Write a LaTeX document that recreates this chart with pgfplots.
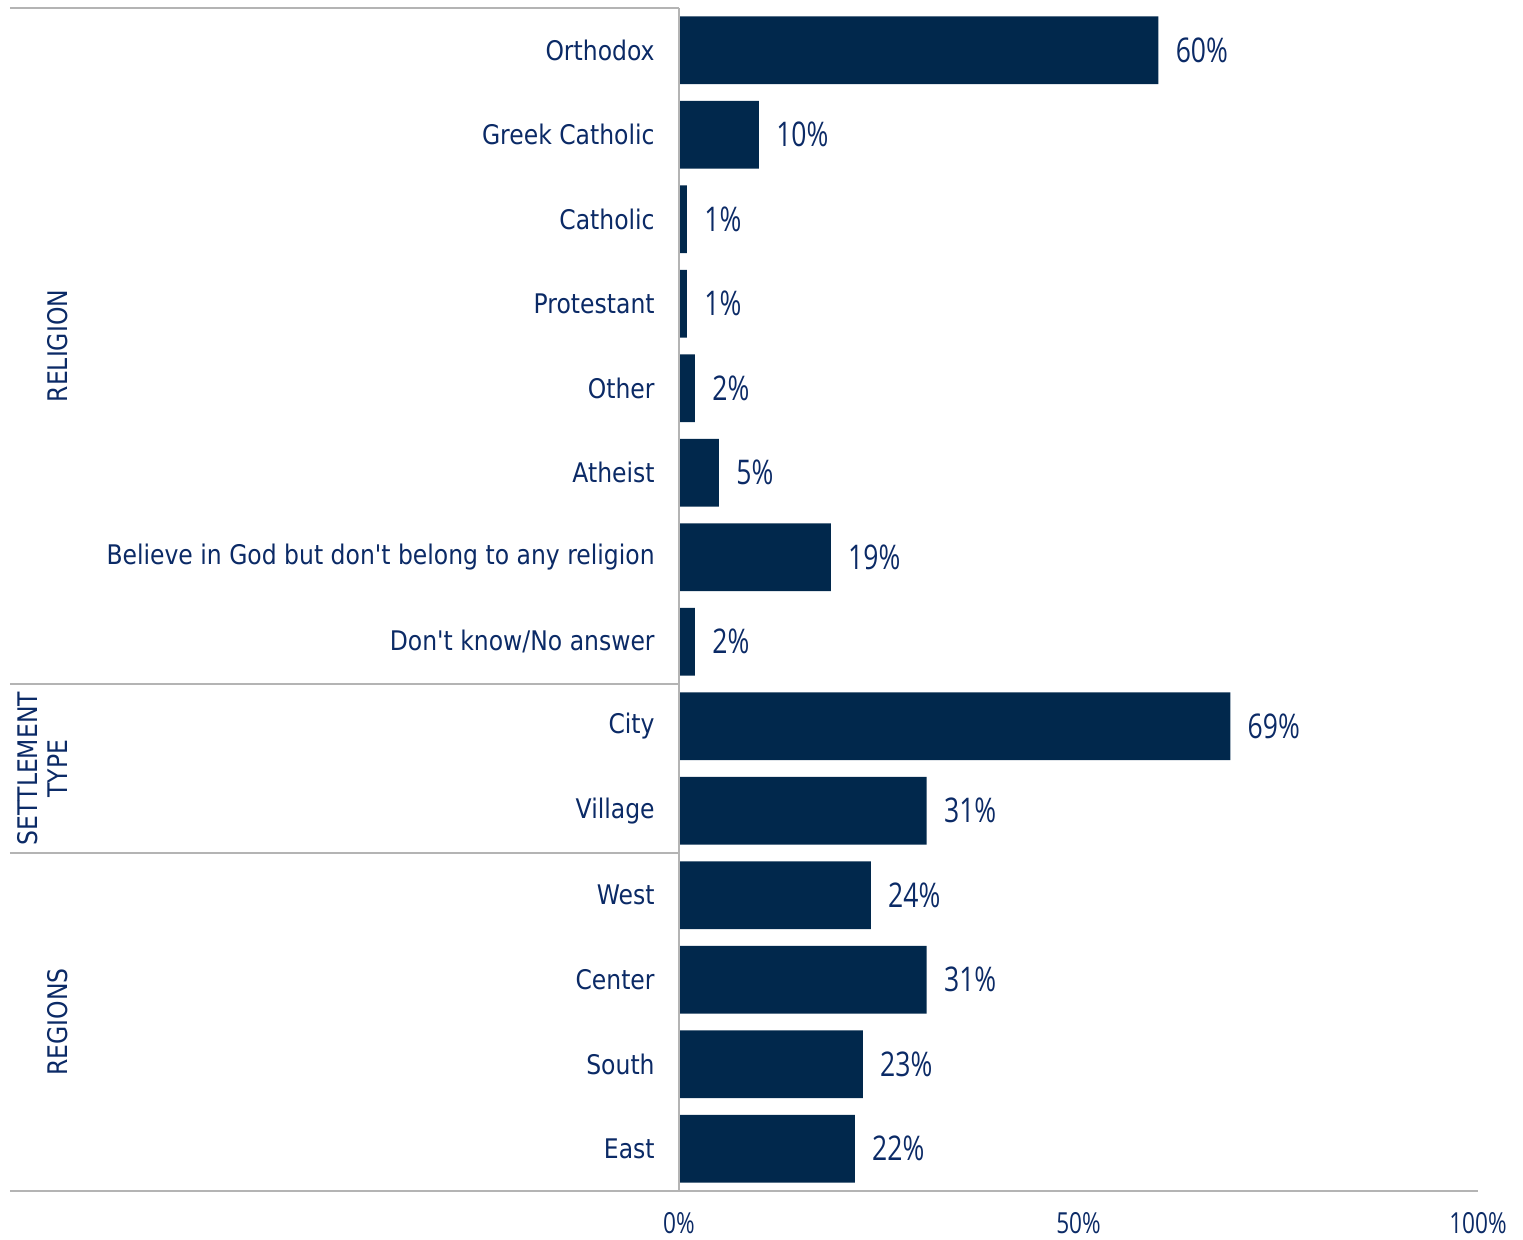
\documentclass[border=0pt]{standalone}
\usepackage{pgfplots}
\pgfplotsset{compat=1.18}
\usepackage{fontspec}
\setmainfont{DejaVu Sans}[FakeStretch=0.87, Ligatures=TeXOff]
\newfontfamily\numfont{Open Sans}[FakeStretch=0.78]
\definecolor{barblue}{HTML}{01284C}
\definecolor{txtblue}{HTML}{0B2A66}
\definecolor{linegray}{HTML}{B4B4B4}
\begin{document}
\begin{tikzpicture}
\begin{axis}[
  width=399.5pt, height=591.5pt, scale only axis,
  xbar, bar width=0.8,
  xmin=0, xmax=100, ymin=-0.5, ymax=13.5, y dir=reverse,
  axis line style={draw=none},
  major tick length=0pt,
  xtick={0,50,100}, xticklabels={0\%,50\%,100\%},
  ytick={0,...,13},
  yticklabels={Orthodox,Greek Catholic,Catholic,Protestant,Other,Atheist,Believe in God but don't belong to any religion,Don't know/No answer,City,Village,West,Center,South,East},
  yticklabel style={anchor=east, inner sep=0pt, xshift=-12pt, text=txtblue, font=\fontsize{13.5}{16}\selectfont},
  xticklabel style={anchor=base, inner sep=0pt, yshift=-21pt, text=txtblue, font=\numfont\fontsize{14.5}{16}\selectfont},
  point meta=x,
  nodes near coords={\pgfmathprintnumber[assume math mode=true]{\pgfplotspointmeta}\%},
  nodes near coords style={anchor=west, inner sep=0pt, xshift=8.5pt, text=txtblue, font=\numfont\fontsize{17}{18}\selectfont},
  clip=false,
]
\addplot[fill=barblue, draw=none] coordinates {
  (60,0) (10,1) (1,2) (1,3) (2,4) (5,5) (19,6) (2,7)
  (69,8) (31,9) (24,10) (31,11) (23,12) (22,13)
};
\draw[linegray, line width=1pt] (axis cs:-83.73,-0.5) -- (axis cs:0,-0.5);
\draw[linegray, line width=1pt] (axis cs:-83.73,7.5) -- (axis cs:0,7.5);
\draw[linegray, line width=1pt] (axis cs:-83.73,9.5) -- (axis cs:0,9.5);
\draw[linegray, line width=1pt] (axis cs:-83.73,13.5) -- (axis cs:100,13.5);
\draw[linegray, line width=1pt] (axis cs:0,-0.5) -- (axis cs:0,13.5);
\node[rotate=90, text=txtblue, font=\fontsize{13.5}{16}\selectfont] at (axis cs:-77.72,3.5) {RELIGION};
\node[rotate=90, text=txtblue, align=center, font=\fontsize{13.5}{15}\selectfont] at (axis cs:-79.6,8.5) {SETTLEMENT\\TYPE};
\node[rotate=90, text=txtblue, font=\fontsize{13.5}{16}\selectfont] at (axis cs:-77.72,11.5) {REGIONS};
\path (axis cs:-84.98,-0.5947) rectangle (axis cs:105.63,14.068);
\end{axis}
\end{tikzpicture}
\end{document}
